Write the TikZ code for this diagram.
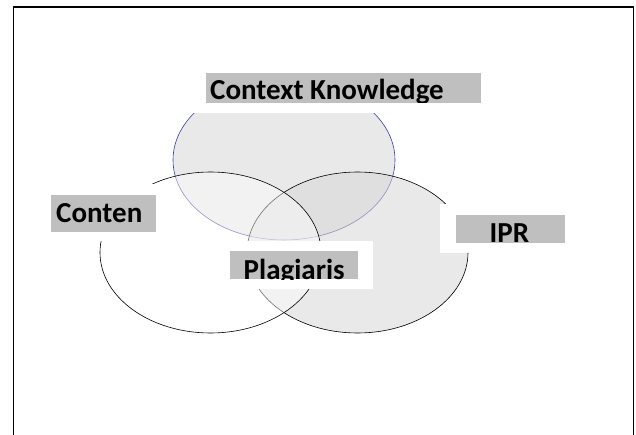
\documentclass[tikz,border=0pt]{standalone}
\usepackage{fontspec}
\setmainfont{Carlito}
\definecolor{boxgray}{HTML}{BFBFBF}
\definecolor{topfill}{HTML}{E9E9E9}
\definecolor{rightfill}{HTML}{D7D7D7}
\definecolor{ellblue}{HTML}{3A3AA8}
\tikzset{
  lbl/.style={anchor=base west, inner sep=0pt, font=\fontsize{29}{32}\selectfont\bfseries, text=black},
  frame/.style={line width=1.6pt, draw=black},
}
\begin{document}
\begin{tikzpicture}[x=1pt,y=-1pt]
\useasboundingbox (0,0) rectangle (636,435);
\fill[white] (0,0) rectangle (636,435);
% frame
\draw[frame] (13.5,440) -- (13.5,7) -- (633.5,7) -- (633.5,440);
% top ellipse (Context Knowledge)
\filldraw[fill=topfill, draw=ellblue, line width=0.6pt] (284,160) ellipse [x radius=111, y radius=80];
% right circle (IPR)
\filldraw[fill=rightfill, fill opacity=0.545, draw=black, line width=0.6pt] (357.5,252.5) ellipse [x radius=110.5, y radius=80.5];
% left circle (Content)
\filldraw[fill=white, fill opacity=0.45, draw=black, line width=0.6pt] (210.5,252.5) ellipse [x radius=110.5, y radius=80.5];
% Context Knowledge label
\fill[white] (165,70) rectangle (480,113);
\fill[boxgray] (206,73) rectangle (481,103);
\begin{scope}
\clip (206,73) rectangle (481,103);
\node[lbl] (ck) at (210,100) {Context Knowledge};
\end{scope}
% Conten label
\fill[white] (45,184) rectangle (160,241);
\fill[boxgray] (51,195) rectangle (156,232);
\begin{scope}
\clip (51,195) rectangle (156,232);
\node[lbl] (ct) at (56,223) {Conten};
\end{scope}
% IPR label
\fill[white] (440,204.5) rectangle (565,253);
\fill[boxgray] (456,215) rectangle (565,243);
\begin{scope}
\clip (456,215) rectangle (565,243);
\node[lbl] (ipr) at (489.5,243) {IPR};
\end{scope}
% Plagiaris label
\fill[white] (229,241) rectangle (373,289);
\fill[boxgray] (230,251) rectangle (358,279);
\begin{scope}
\clip (230,251) rectangle (358,279);
\node[lbl] (pl) at (243.5,279.5) {Plagiaris};
\end{scope}
\end{tikzpicture}
\end{document}
